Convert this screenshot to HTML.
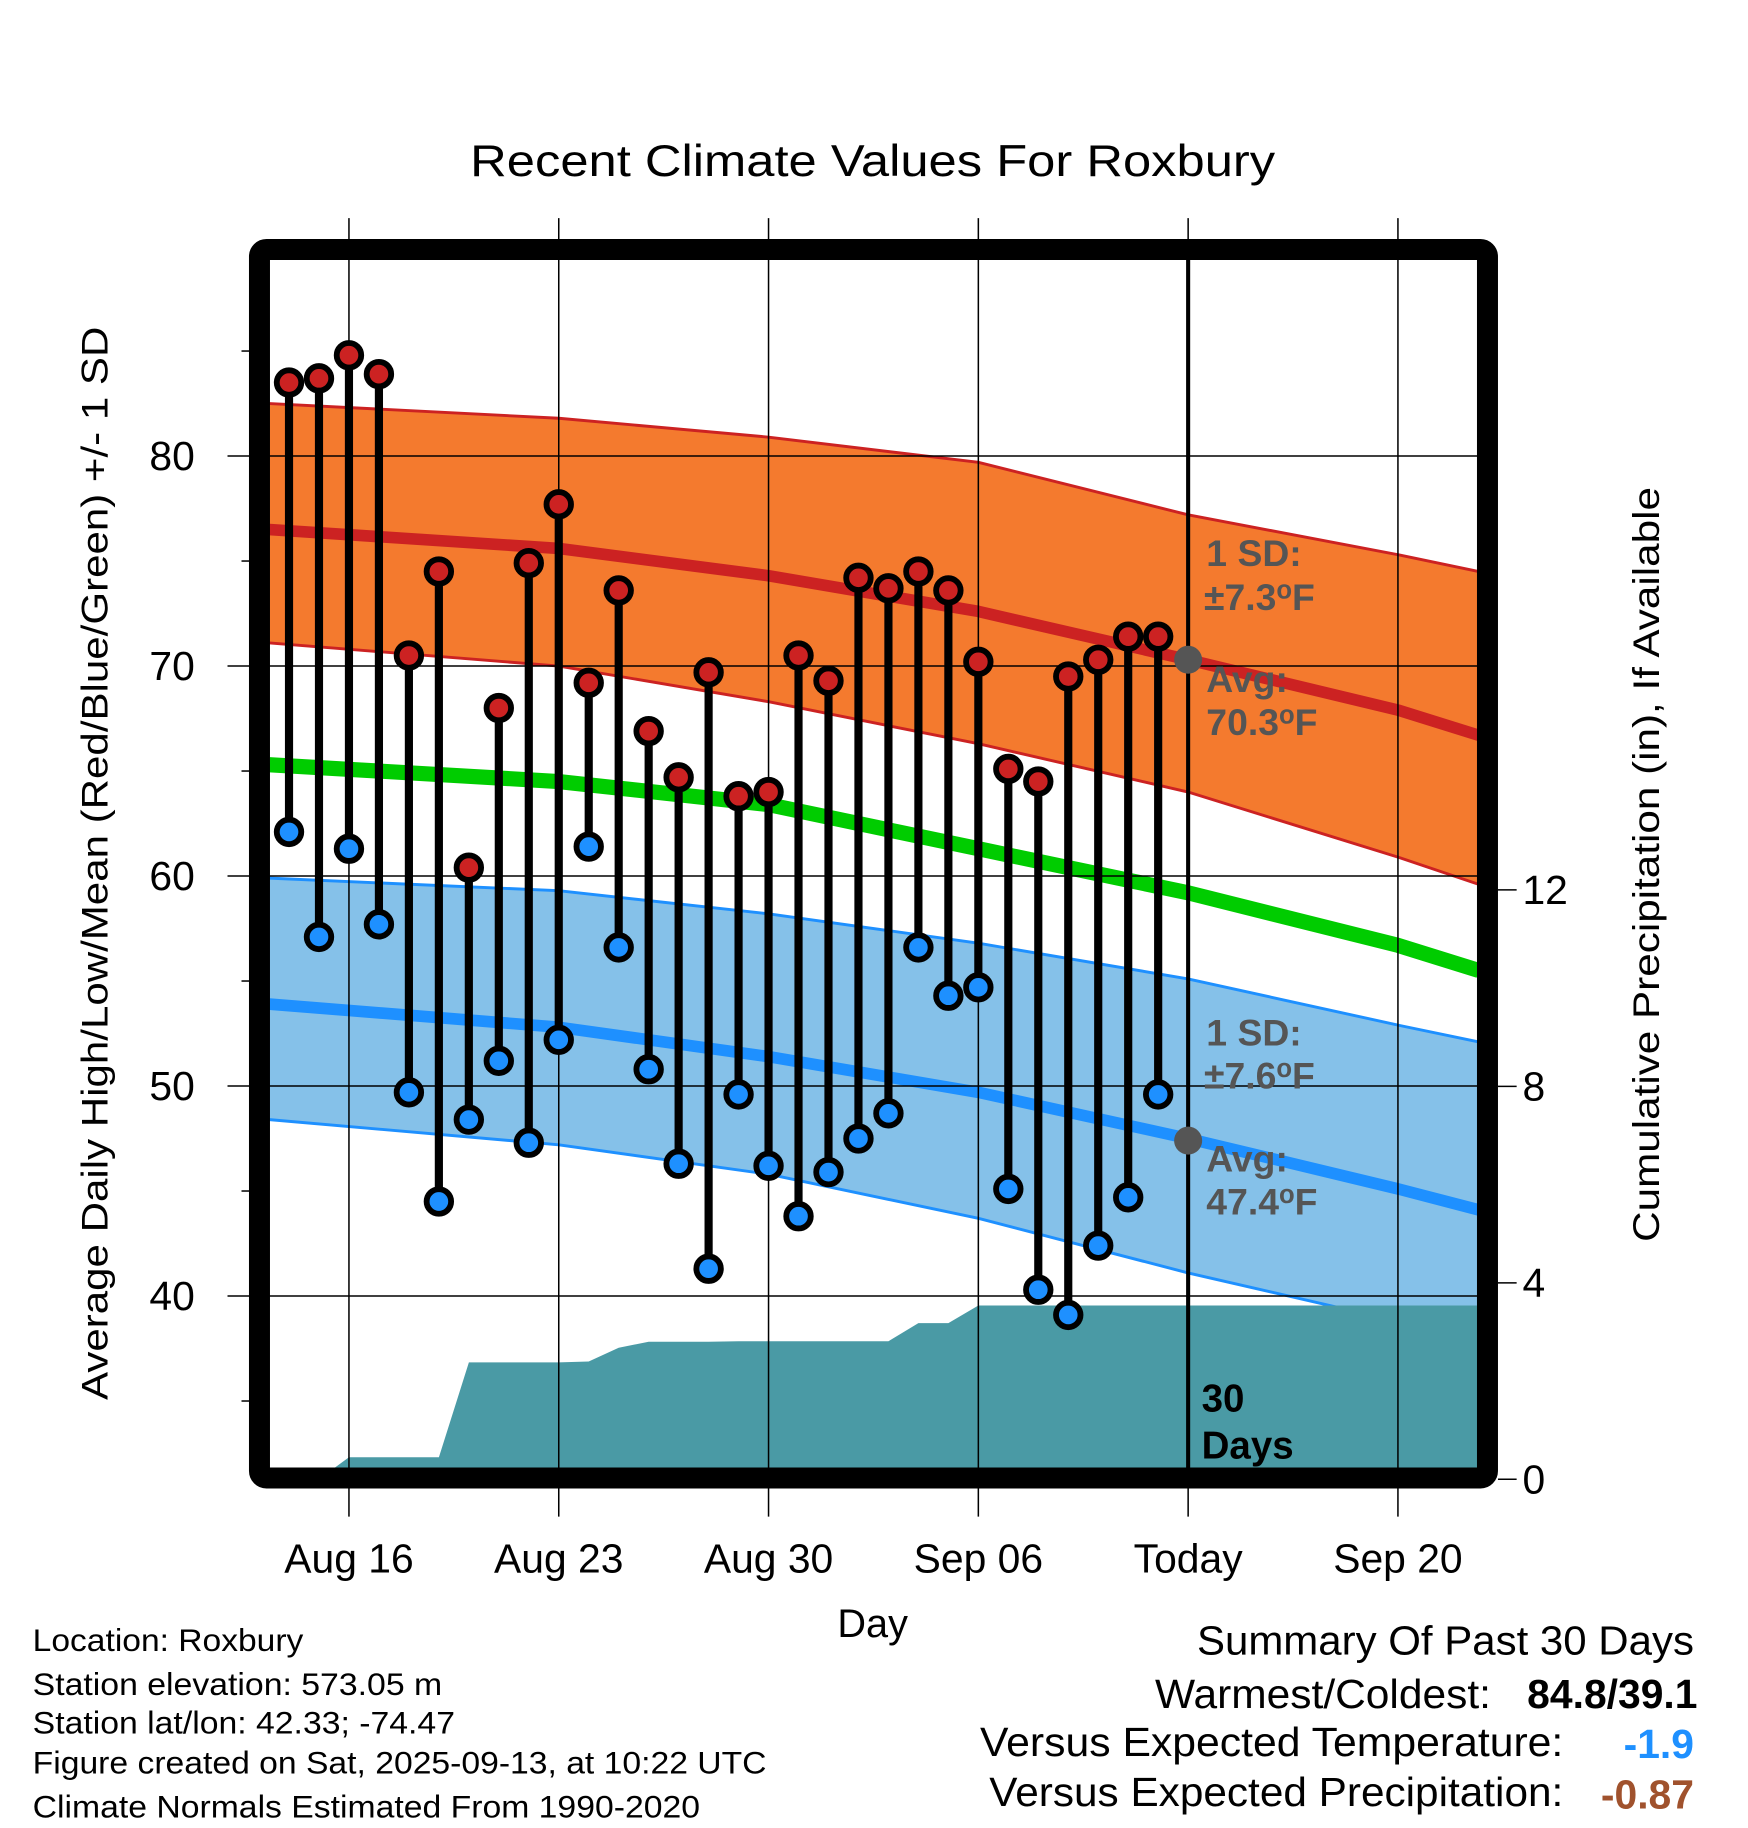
<!DOCTYPE html>
<html><head><meta charset="utf-8"><style>
html,body{margin:0;padding:0;background:#fff}
svg{display:block}
text{font-family:"Liberation Sans",Arial,sans-serif}
</style></head><body>
<svg id="chart" width="1748" height="1828" viewBox="0 0 1498.3 1566.9" xmlns="http://www.w3.org/2000/svg">
<defs><clipPath id="plotclip"><rect x="231" y="222" width="1036" height="1038"/></clipPath></defs>
<g id="bands" clip-path="url(#plotclip)"></g>
<g id="grid"></g>
<g id="marks"></g>
<rect x="222.4" y="213.9" width="1052.6" height="1053" rx="6" fill="none" stroke="#000" stroke-width="18"/>
<text x="748" y="151" font-size="38" text-anchor="middle" textLength="690" lengthAdjust="spacingAndGlyphs">Recent Climate Values For Roxbury</text>
<text transform="translate(92,740) rotate(-90)" font-size="32" text-anchor="middle" textLength="920" lengthAdjust="spacingAndGlyphs">Average Daily High/Low/Mean (Red/Blue/Green) +/- 1 SD</text>
<text transform="translate(1422,741) rotate(-90)" font-size="32" text-anchor="middle" textLength="647" lengthAdjust="spacingAndGlyphs">Cumulative Precipitation (in), If Available</text>
<text x="748" y="1403" font-size="34" text-anchor="middle">Day</text>
<g font-size="27">
<text x="28" y="1415" textLength="232" lengthAdjust="spacingAndGlyphs">Location: Roxbury</text>
<text x="28" y="1453" textLength="351" lengthAdjust="spacingAndGlyphs">Station elevation: 573.05 m</text>
<text x="28" y="1486" textLength="362" lengthAdjust="spacingAndGlyphs">Station lat/lon: 42.33; -74.47</text>
<text x="28" y="1520" textLength="629" lengthAdjust="spacingAndGlyphs">Figure created on Sat, 2025-09-13, at 10:22 UTC</text>
<text x="28" y="1558" textLength="572" lengthAdjust="spacingAndGlyphs">Climate Normals Estimated From 1990-2020</text>
</g>
<g font-size="35" text-anchor="end">
<text x="1452" y="1418" textLength="426" lengthAdjust="spacingAndGlyphs">Summary Of Past 30 Days</text>
<text x="1278" y="1464" textLength="288" lengthAdjust="spacingAndGlyphs">Warmest/Coldest:</text>
<text x="1455" y="1464" font-weight="bold">84.8/39.1</text>
<text x="1340" y="1505" textLength="500" lengthAdjust="spacingAndGlyphs">Versus Expected Temperature:</text>
<text x="1452" y="1507" font-weight="bold" fill="#1e90ff">-1.9</text>
<text x="1340" y="1548" textLength="492" lengthAdjust="spacingAndGlyphs">Versus Expected Precipitation:</text>
<text x="1452" y="1550" font-weight="bold" fill="#a0522d">-0.87</text>
</g>
<g font-size="32" font-weight="bold" fill="#555">
<text x="1034" y="485">1 SD:</text><text x="1032" y="523">±7.3<tspan font-size="22" dy="-10">o</tspan><tspan dy="10">F</tspan></text>
<text x="1034" y="593">Avg:</text><text x="1034" y="630">70.3<tspan font-size="22" dy="-10">o</tspan><tspan dy="10">F</tspan></text>
<text x="1034" y="896">1 SD:</text><text x="1032" y="933">±7.6<tspan font-size="22" dy="-10">o</tspan><tspan dy="10">F</tspan></text>
<text x="1034" y="1004">Avg:</text><text x="1034" y="1041">47.4<tspan font-size="22" dy="-10">o</tspan><tspan dy="10">F</tspan></text>
</g>
<g font-size="33" font-weight="bold">
<text x="1030" y="1210">30</text><text x="1030" y="1250">Days</text>
</g>
</svg>
<script>
// ---- data ----
const dayLabels=["Aug 16","Aug 23","Aug 30","Sep 06","Today","Sep 20"];
const dayTicks=[0,7,14,21,28,35];
const yTicks=[40,50,60,70,80];
const y2Ticks=[0,4,8,12];
const obsDays=[-2,-1,0,1,2,3,4,5,6,7,8,9,10,11,12,13,14,15,16,17,18,19,20,21,22,23,24,25,26,27];
const highs=[83.5,83.7,84.8,83.9,70.5,74.5,60.4,68.0,74.9,77.7,69.2,73.6,66.9,64.7,69.7,63.8,64.0,70.5,69.3,74.2,73.7,74.5,73.6,70.2,65.1,64.5,69.5,70.3,71.4,71.4];
const lows=[62.1,57.1,61.3,57.7,49.7,44.5,48.4,51.2,47.3,52.2,61.4,56.6,50.8,46.3,41.3,49.6,46.2,43.8,45.9,47.5,48.7,56.6,54.3,54.7,45.1,40.3,39.1,42.4,44.7,49.6];
const precip=[0,0,0.45,0.45,0.45,0.45,2.38,2.38,2.38,2.38,2.4,2.68,2.8,2.8,2.8,2.81,2.81,2.81,2.81,2.81,2.81,3.18,3.18,3.54,3.54,3.54,3.54,3.54,3.54,3.54];
const normDays=[-2.65,7,14,21,28,35,37.7];
const hiUpper=[82.5,81.8,80.9,79.7,77.2,75.3,74.5];
const hiMean=[76.5,75.6,74.3,72.6,70.3,67.9,66.7];
const hiLower=[71.1,70.0,68.3,66.3,64.0,60.9,59.6];
const meanT=[65.3,64.5,63.4,61.3,59.2,56.7,55.5];
const loUpper=[59.9,59.3,58.2,56.8,55.1,52.9,52.1];
const loMean=[53.9,52.8,51.4,49.7,47.5,45.1,44.1];
const loLower=[48.4,47.2,45.8,43.7,41.1,38.8,38.2];
// ---- axes ----
const X=d=>299.1+d*25.69;
const Y=v=>390.9+(80-v)*18;
const Y2=p=>1268-p*42.1;
const NS="http://www.w3.org/2000/svg";
function mk(tag,attrs,parent){const e=document.createElementNS(NS,tag);for(const k in attrs)e.setAttribute(k,attrs[k]);parent.appendChild(e);return e;}
const bands=document.getElementById('bands'),grid=document.getElementById('grid'),marks=document.getElementById('marks');
function pts(days,vals){return days.map((d,i)=>X(d).toFixed(1)+','+Y(vals[i]).toFixed(1));}
function band(up,lo,fill,edge,name){
  const p=mk('polygon',{points:pts(normDays,up).concat(pts(normDays,lo).reverse()).join(' '),fill:fill},bands);
  
  
  [up,lo].forEach(a=>{const l=mk('polyline',{points:pts(normDays,a).join(' '),fill:'none',stroke:edge,'stroke-width':2.5},bands);
  
  });
}
function line(vals,color,w,name){const l=mk('polyline',{points:pts(normDays,vals).join(' '),fill:'none',stroke:color,'stroke-width':w,'stroke-linejoin':'round'},bands);
  
  }
band(hiUpper,hiLower,'#f47a2e','#cc2222','high-sd-band');
line(hiMean,'#cc2222',10,'normal-high-line');
band(loUpper,loLower,'#85c1e9','#1e90ff','low-sd-band');
line(loMean,'#1e90ff',10,'normal-low-line');
line(meanT,'#00cc00',13,'normal-mean-line');
// precip area
let pp=[X(obsDays[0])+','+Y2(0)];
obsDays.forEach((d,i)=>pp.push(X(d).toFixed(1)+','+Y2(precip[i]).toFixed(1)));
pp.push('1270,'+Y2(precip[precip.length-1]).toFixed(1));pp.push('1270,'+Y2(0));
const pa=mk('polygon',{points:pp.join(' '),fill:'#4a9aa5'},bands);


// grid
yTicks.forEach(v=>{const l=mk('line',{x1:195,x2:1267,y1:Y(v),y2:Y(v),stroke:'#000','stroke-width':1.3},grid);
  
  
  const t=mk('text',{x:167,y:Y(v)+12,'font-size':35,'text-anchor':'end'},grid);t.textContent=v;
  
  
  const m=mk('line',{x1:207,x2:216,y1:Y(v+5),y2:Y(v+5),stroke:'#000','stroke-width':1.3},grid);
  
  });
const m0=mk('line',{x1:207,x2:216,y1:Y(35),y2:Y(35),stroke:'#000','stroke-width':1.3},grid);


y2Ticks.forEach(p=>{const l=mk('line',{x1:1284,x2:1300,y1:Y2(p),y2:Y2(p),stroke:'#000','stroke-width':1.3},grid);
  
  
  const t=mk('text',{x:1305,y:Y2(p)+12,'font-size':35},grid);t.textContent=p;
  
  });
dayTicks.forEach((d,i)=>{const l=mk('line',{x1:X(d),x2:X(d),y1:187,y2:1300,stroke:'#000','stroke-width':1.3},grid);
  
  
  const t=mk('text',{x:X(d),y:1348,'font-size':35,'text-anchor':'middle'},grid);t.textContent=dayLabels[i];
  
  });
const today=mk('line',{x1:X(28),x2:X(28),y1:222,y2:1262,stroke:'#000','stroke-width':3.5},grid);


[70.3,47.4].forEach(v=>{const c=mk('circle',{cx:X(28),cy:Y(v),r:12,fill:'#555'},grid);
  
  });
// stems
obsDays.forEach((d,i)=>{
  const s=mk('line',{x1:X(d),x2:X(d),y1:Y(highs[i]),y2:Y(lows[i]),stroke:'#000','stroke-width':7},marks);
  
  
  const h=mk('circle',{cx:X(d),cy:Y(highs[i]),r:10.5,fill:'#cc2222',stroke:'#000','stroke-width':5},marks);
  
  
  const lo=mk('circle',{cx:X(d),cy:Y(lows[i]),r:10.5,fill:'#1e90ff',stroke:'#000','stroke-width':5},marks);
  
  
});
</script>
</body></html>
